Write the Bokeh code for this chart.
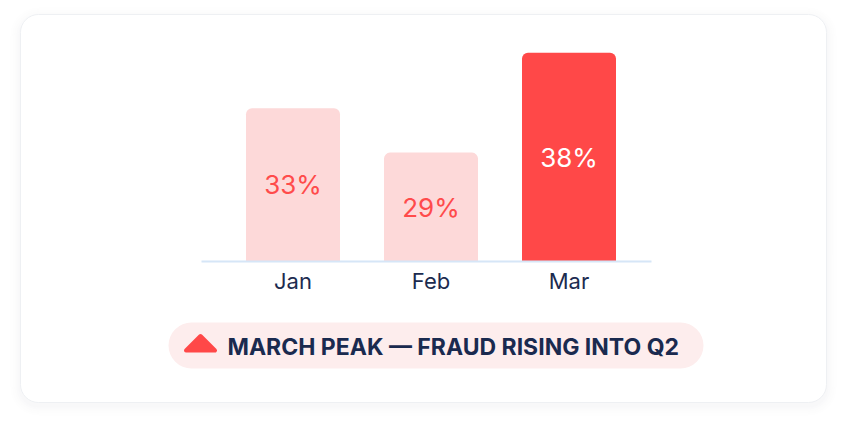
from bokeh.plotting import figure
from bokeh.models import FactorRange, Range1d, ColumnDataSource
from bokeh.transform import dodge
from bokeh.core.properties import value
from bokeh.embed import file_html
from bokeh.resources import INLINE

# ---- data ----
months = ["Jan", "Feb", "Mar"]
rates = [33, 29, 38]
rate_labels = ["33%", "29%", "38%"]
bar_colors = ["#fdd9d9", "#fdd9d9", "#ff4848"]
label_colors = ["#ff4b4b", "#ff4b4b", "#ffffff"]
headline = "MARCH PEAK \u2014 FRAUD RISING INTO Q2"

W, H = 840, 420
UNIT = 138.0                      # px per category step
PAD = (W / UNIT - len(months)) / 2  # padding added on each side
X0 = -PAD
BASE = 19.2                       # value at the baseline
VPX = 11.11                       # px per value unit
BASE_Y = 261                      # baseline, screen px


def sx(px):
    """screen x (px) -> synthetic categorical coordinate"""
    return X0 + px / UNIT


p = figure(width=W, height=H, output_backend="svg", toolbar_location=None,
           x_range=FactorRange(factors=months, range_padding=PAD,
                               range_padding_units="absolute"),
           y_range=Range1d(H, 0),
           x_axis_location=None, y_axis_location=None, min_border=0)
p.extra_y_ranges = {"val": Range1d(BASE - (H - BASE_Y) / VPX, BASE + BASE_Y / VPX)}
p.grid.visible = False
p.outline_line_color = None
p.background_fill_color = "white"
p.border_fill_color = "white"

# ---- card with soft shadow ----
for i, a in enumerate([0.008, 0.010, 0.013, 0.016, 0.02]):
    g = 10 - 2 * i
    p.quad(left=sx(20 - g), right=sx(826 + g), top=14 - g + 3, bottom=402 + g + 3,
           border_radius=18 + g, fill_color="#8a93a6", fill_alpha=a,
           line_color=None)
p.quad(left=sx(20), right=sx(826), top=14, bottom=402, border_radius=18,
       fill_color="white", line_color="#eef0f3", line_width=1)

# ---- bars ----
src = ColumnDataSource(dict(
    month=months, rate=rates, label=rate_labels, color=bar_colors,
    lcolor=label_colors, mid=[(BASE + r) / 2 for r in rates]))
shift = (430.5 - W / 2) / UNIT
p.vbar(x=dodge("month", shift, range=p.x_range), top="rate", bottom=BASE,
       width=94 / UNIT, fill_color="color", line_color=None,
       border_radius=(6, 6, 0, 0), source=src, y_range_name="val")

# baseline
p.segment(x0=sx(201), x1=sx(651), y0=BASE_Y, y1=BASE_Y, line_color="#d6e6f7",
          line_width=2)

p.text(x=dodge("month", shift, range=p.x_range), y="mid", text="label",
       text_color="lcolor", text_font=value("Inter"), text_font_size="26px",
       text_align="center", text_baseline="middle", source=src,
       y_range_name="val")

# category labels
p.text(x=dodge("month", shift, range=p.x_range), y=280, text="month",
       text_color="#1c2b4f", text_font=value("Inter"), text_font_size="22px",
       text_align="center", text_baseline="middle", source=src)

# ---- headline pill ----
p.quad(left=sx(168), right=sx(703), top=322, bottom=368, border_radius=23,
       fill_color="#fdeded", line_color=None)
p.patch(x=[sx(185.5), sx(200), sx(214.5)], y=[350, 335.5, 350],
        fill_color="#ff4848", line_color="#ff4848", line_width=4,
        line_join="round")
p.text(x=[sx(227)], y=[346], text=[headline], text_color="#1a2a4f",
       text_font=value("Inter"), text_font_size="23px", text_font_style="bold",
       text_align="left", text_baseline="middle")

open("out.html", "w").write(file_html(p, INLINE))
